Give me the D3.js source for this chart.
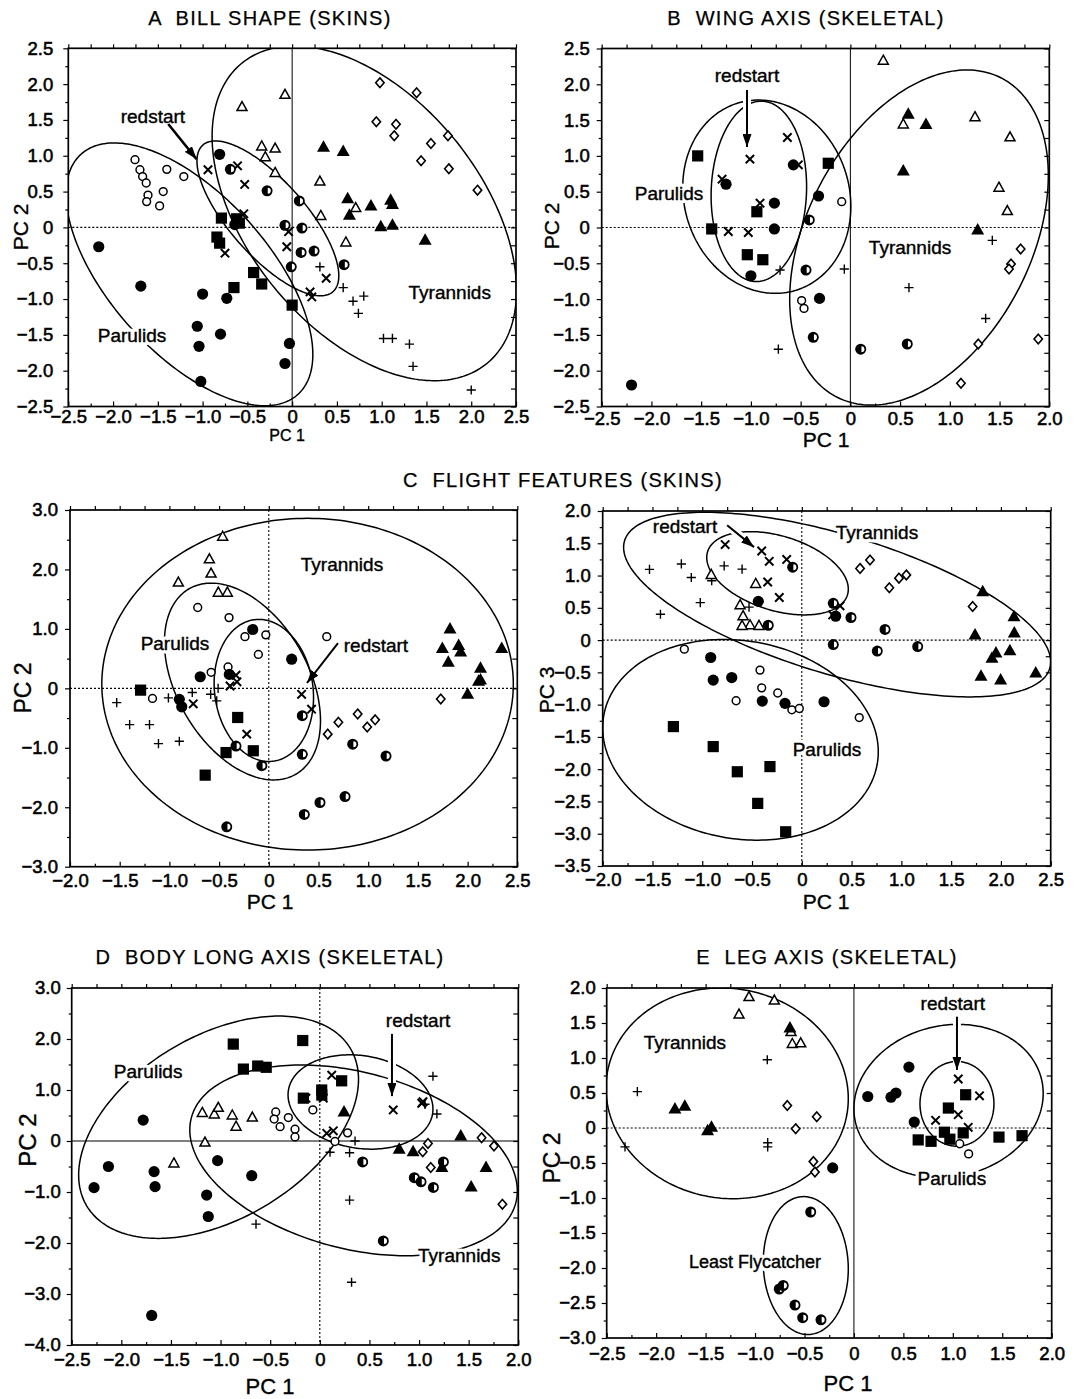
<!DOCTYPE html>
<html><head><meta charset="utf-8">
<script src="https://cdn.jsdelivr.net/npm/d3@7"></script>
<style>
body{margin:0;background:#fff}
svg{display:block;background:#fff}
text{font-family:"Liberation Sans",Arial,Helvetica,sans-serif;fill:#000}
</style></head><body>
<svg id="c" width="1074" height="1399"></svg>
<script>
// ---------------- DATA ----------------
// symbol codes: fc filled circle, sq filled square, oc open circle, x cross (redstart),
// ot open triangle, ft filled triangle, dm open diamond, pl plus, hc half-filled circle
const titles = ["A  BILL SHAPE (SKINS)", "B  WING AXIS (SKELETAL)", "C  FLIGHT FEATURES (SKINS)",
  "D  BODY LONG AXIS (SKELETAL)", "E  LEG AXIS (SKELETAL)"];

const ticksA_x = [-2.5,-2,-1.5,-1,-0.5,0,0.5,1,1.5,2,2.5];
const ticksA_y = [-2.5,-2,-1.5,-1,-0.5,0,0.5,1,1.5,2,2.5];
const ticksB_x = [-2.5,-2,-1.5,-1,-0.5,0,0.5,1,1.5,2];
const ticksB_y = [-2.5,-2,-1.5,-1,-0.5,0,0.5,1,1.5,2,2.5];
const ticksC1_x = [-2,-1.5,-1,-0.5,0,0.5,1,1.5,2,2.5];
const ticksC1_y = [-3,-2,-1,0,1,2,3];
const ticksC2_x = [-2,-1.5,-1,-0.5,0,0.5,1,1.5,2,2.5];
const ticksC2_y = [-3.5,-3,-2.5,-2,-1.5,-1,-0.5,0,0.5,1,1.5,2];
const ticksD_x = [-2.5,-2,-1.5,-1,-0.5,0,0.5,1,1.5,2];
const ticksD_y = [-4,-3,-2,-1,0,1,2,3];
const ticksE_x = [-2.5,-2,-1.5,-1,-0.5,0,0.5,1,1.5,2];
const ticksE_y = [-3,-2.5,-2,-1.5,-1,-0.5,0,0.5,1,1.5,2];

const ptsA = [
 ["fc",-2.16,-0.27],["fc",-1.69,-0.82],["fc",-1.0,-0.93],["fc",-0.73,-0.99],["fc",-1.06,-1.38],["fc",-0.80,-1.49],
 ["fc",-1.04,-1.66],["fc",-1.02,-2.15],["fc",-0.81,1.02],["fc",-0.03,-1.62],["fc",-0.08,-1.90],["fc",-0.64,0.04],
 ["sq",-0.79,0.13],["sq",-0.62,0.12],["sq",-0.59,0.06],["sq",-0.84,-0.135],["sq",-0.81,-0.22],["sq",-0.43,-0.63],
 ["sq",-0.34,-0.79],["sq",-0.65,-0.84],["sq",0.0,-1.085],
 ["oc",-1.755,0.945],["oc",-1.70,0.805],["oc",-1.67,0.71],["oc",-1.63,0.62],["oc",-1.61,0.45],["oc",-1.625,0.36],
 ["oc",-1.48,0.30],["oc",-1.44,0.50],["oc",-1.40,0.81],["oc",-1.21,0.71],
 ["x",-0.94,0.805],["x",-0.61,0.86],["x",-0.53,0.60],["x",-0.54,0.19],["x",-0.75,-0.36],["x",-0.06,-0.27],
 ["x",-0.04,-0.06],["x",0.38,-0.71],["x",0.22,-0.97],["x",0.20,-0.90],
 ["ot",-0.56,1.68],["ot",-0.08,1.85],["ot",-0.34,1.13],["ot",-0.19,1.10],["ot",-0.30,0.98],["ot",-0.19,0.76],
 ["ot",0.31,0.64],["ot",0.32,0.16],["ot",0.60,-0.21],["ot",0.71,0.27],
 ["ft",0.35,1.12],["ft",0.57,1.06],["ft",0.62,0.40],["ft",0.64,0.17],["ft",0.88,0.30],["ft",1.10,0.38],
 ["ft",1.12,0.32],["ft",0.99,0.01],["ft",1.12,0.03],["ft",1.485,-0.18],
 ["dm",0.98,2.02],["dm",1.39,1.88],["dm",0.94,1.475],["dm",1.16,1.44],["dm",1.14,1.28],["dm",1.74,1.28],
 ["dm",1.55,1.17],["dm",1.44,0.93],["dm",1.75,0.82],["dm",2.07,0.52],
 ["pl",0.31,-0.55],["pl",0.57,-0.84],["pl",0.68,-1.03],["pl",0.80,-0.96],["pl",0.74,-1.20],["pl",1.02,-1.55],
 ["pl",1.12,-1.55],["pl",1.31,-1.63],["pl",1.35,-1.94],["pl",2.0,-2.27],
 ["hc",0.08,0.37],["hc",0.11,-0.01],["hc",-0.08,0.03],["hc",0.10,-0.35],["hc",0.245,-0.33],["hc",-0.01,-0.55],
 ["hc",0.58,-0.52],["hc",-0.69,0.81],["hc",-0.28,0.51]
];
const ptsB = [
 ["fc",-1.25,0.605],["fc",-0.764,0.34],["fc",-0.764,-0.02],["fc",-1.0,-0.675],["fc",-0.573,0.875],["fc",-2.2,-2.2],
 ["fc",-0.32,0.44],["fc",-0.31,-0.99],
 ["sq",-1.535,1.0],["sq",-1.394,-0.02],["sq",-0.94,0.22],["sq",-1.036,-0.38],["sq",-0.88,-0.45],["sq",-0.222,0.897],
 ["x",-1.29,0.675],["x",-1.01,0.955],["x",-0.633,1.257],["x",-0.908,0.34],["x",-1.227,-0.056],["x",-1.026,-0.07],["x",-0.523,0.875],
 ["oc",-0.087,0.36],["oc",-0.49,-1.02],["oc",-0.466,-1.13],
 ["ot",0.331,2.33],["ot",0.532,1.44],["ot",1.253,1.54],["ot",1.605,1.26],["ot",1.494,0.556],["ot",1.578,0.23],
 ["ft",0.582,1.58],["ft",0.76,1.44],["ft",0.532,0.79],["ft",1.28,-0.035],
 ["pl",1.427,-0.18],["pl",-0.061,-0.58],["pl",0.589,-0.84],["pl",1.36,-1.27],["pl",-0.707,-0.594],["pl",-0.724,-1.70],
 ["dm",1.712,-0.30],["dm",1.615,-0.51],["dm",1.595,-0.58],["dm",1.286,-1.627],["dm",1.889,-1.557],["dm",1.112,-2.176],
 ["hc",-0.413,0.105],["hc",-0.446,-0.594],["hc",-0.373,-1.534],["hc",0.104,-1.70],["hc",0.572,-1.627]
];
const ptsC1 = [
 ["ot",-0.464,2.55],["ot",-0.598,2.17],["ot",-0.581,1.93],["ot",-0.91,1.78],["ot",-0.508,1.61],["ot",-0.417,1.61],
 ["oc",-0.715,1.36],["oc",-0.40,1.19],["oc",-0.24,0.87],["oc",-0.03,0.90],["oc",-0.105,0.57],["oc",-0.58,0.27],
 ["oc",-0.41,0.36],["oc",-1.17,-0.17],["oc",0.583,0.87],
 ["fc",-0.162,0.99],["fc",-0.69,0.195],["fc",-0.397,0.235],["fc",-0.90,-0.185],["fc",-0.876,-0.31],["fc",0.23,0.49],
 ["hc",-0.33,-0.97],["hc",-0.07,-1.30],["hc",-0.423,-2.33],["hc",0.337,-0.46],["hc",0.337,-1.11],["hc",0.844,-0.94],
 ["hc",1.179,-1.14],["hc",0.767,-1.82],["hc",0.515,-1.92],["hc",0.357,-2.12],
 ["sq",-1.29,-0.03],["sq",-0.313,-0.49],["sq",-0.43,-1.08],["sq",-0.156,-1.05],["sq",-0.64,-1.46],
 ["x",-0.76,-0.26],["x",-0.39,0.04],["x",-0.33,0.22],["x",-0.32,0.11],["x",-0.222,-0.77],["x",0.33,-0.10],["x",0.43,-0.35],
 ["pl",-1.53,-0.24],["pl",-1.40,-0.61],["pl",-1.20,-0.61],["pl",-1.11,-0.93],["pl",-0.90,-0.89],["pl",-1.01,-0.16],
 ["pl",-0.77,-0.07],["pl",-0.585,-0.10],["pl",-0.524,-0.21],["pl",-0.51,0.0],
 ["dm",0.593,-0.77],["dm",0.70,-0.57],["dm",0.894,-0.43],["dm",0.99,-0.65],["dm",1.07,-0.53],["dm",1.73,-0.18],
 ["ft",1.823,1.0],["ft",1.746,0.67],["ft",1.91,0.72],["ft",1.93,0.61],["ft",1.806,0.44],["ft",2.343,0.67],
 ["ft",2.13,0.34],["ft",2.11,0.12],["ft",2.13,0.14],["ft",2.0,-0.10]
];
const ptsC2 = [
 ["pl",-1.53,1.095],["pl",-1.21,1.18],["pl",-1.11,0.97],["pl",-1.42,0.40],["pl",-1.02,0.58],["pl",-0.78,1.15],
 ["pl",-0.60,1.10],["pl",-0.905,0.92],["pl",-0.53,0.51],
 ["ot",-0.91,1.01],["ot",-0.463,0.87],["ot",-0.62,0.54],["ot",-0.59,0.37],["ot",-0.52,0.23],["ot",-0.43,0.22],["ot",-0.60,0.22],
 ["x",-0.77,1.48],["x",-0.403,1.38],["x",-0.327,1.22],["x",-0.152,1.25],["x",-0.343,0.90],["x",-0.226,0.66],["x",0.384,0.53],["x",0.31,0.39],
 ["fc",-0.437,0.60],["fc",-0.915,-0.27],["fc",-0.89,-0.62],["fc",-0.704,-0.58],["fc",-0.397,-0.945],["fc",-0.169,-0.98],
 ["fc",0.223,-0.955],["fc",0.34,0.37],
 ["hc",-0.092,1.13],["hc",-0.337,0.23],["hc",0.316,0.57],["hc",0.494,0.35],["hc",0.836,0.165],["hc",0.316,-0.07],
 ["hc",0.758,-0.17],["hc",1.164,-0.10],
 ["oc",-1.18,-0.14],["oc",-0.42,-0.465],["oc",-0.403,-0.74],["oc",-0.242,-0.82],["oc",-0.66,-0.94],["oc",-0.10,-1.08],
 ["oc",-0.025,-1.06],["oc",0.577,-1.20],
 ["sq",-1.29,-1.34],["sq",-0.89,-1.65],["sq",-0.648,-2.04],["sq",-0.32,-1.96],["sq",-0.443,-2.53],["sq",-0.162,-2.97],
 ["dm",0.585,1.11],["dm",0.685,1.24],["dm",0.879,0.81],["dm",0.976,0.96],["dm",1.05,1.01],["dm",1.716,0.52],
 ["ft",1.817,0.75],["ft",2.131,0.36],["ft",2.134,0.11],["ft",1.74,0.08],["ft",1.95,-0.20],["ft",1.91,-0.28],
 ["ft",2.09,-0.165],["ft",1.80,-0.56],["ft",1.997,-0.62],["ft",2.35,-0.51]
];
const ptsD = [
 ["fc",-1.78,0.41],["fc",-2.13,-0.50],["fc",-2.275,-0.915],["fc",-1.67,-0.60],["fc",-1.66,-0.895],["fc",-1.14,-1.06],
 ["fc",-1.124,-1.48],["fc",-1.03,-0.385],["fc",-0.686,-0.68],["fc",-1.694,-3.42],
 ["sq",-0.872,1.90],["sq",-0.77,1.41],["sq",-0.626,1.47],["sq",-0.54,1.445],["sq",-0.172,1.97],["sq",0.22,1.18],
 ["sq",0.019,1.0],["sq",-0.166,0.84],["sq",0.02,0.90],
 ["ot",-1.184,0.55],["ot",-1.063,0.52],["ot",-1.023,0.65],["ot",-0.882,0.50],["ot",-0.844,0.28],["ot",-0.68,0.46],
 ["ot",-1.157,-0.03],["ot",-1.47,-0.44],
 ["oc",-0.444,0.57],["oc",-0.46,0.43],["oc",-0.40,0.28],["oc",-0.317,0.46],["oc",-0.25,0.23],["oc",-0.25,0.08],
 ["oc",-0.07,0.61],["oc",0.28,0.16],["oc",0.153,-0.01],
 ["x",0.12,1.29],["x",-0.14,0.84],["x",0.035,0.84],["x",0.07,0.15],["x",0.136,0.20],["x",0.74,0.61],["x",1.027,0.74],["x",1.04,0.77],
 ["pl",1.14,1.27],["pl",1.18,0.53],["pl",0.355,0.0],["pl",0.103,-0.22],["pl",0.30,-0.23],["pl",0.30,-1.16],
 ["pl",0.32,-2.77],["pl",-0.643,-1.63],["pl",1.06,0.72],
 ["ft",0.244,0.57],["ft",0.80,-0.16],["ft",0.94,-0.21],["ft",1.42,0.10],["ft",1.23,-0.52],["ft",1.675,-0.52],["ft",1.525,-0.90],
 ["dm",1.09,-0.05],["dm",1.037,-0.21],["dm",1.118,-0.52],["dm",1.63,0.065],["dm",1.755,-0.10],["dm",1.84,-1.24],
 ["hc",0.432,-0.41],["hc",0.952,-0.72],["hc",1.02,-0.80],["hc",1.144,-0.91],["hc",1.245,-0.41],["hc",0.64,-1.96]
];
const ptsE = [
 ["ot",-1.061,1.87],["ot",-0.805,1.82],["ot",-1.162,1.62],["ot",-0.636,1.37],["ot",-0.623,1.20],["ot",-0.538,1.21],
 ["ft",-0.647,1.43],["ft",-1.81,0.27],["ft",-1.71,0.31],["ft",-1.48,-0.04],["ft",-1.44,0.01],
 ["pl",-2.19,0.52],["pl",-2.315,-0.27],["pl",-0.876,0.975],["pl",-0.872,-0.21],["pl",-0.872,-0.27],
 ["dm",-0.674,0.32],["dm",-0.589,-0.01],["dm",-0.376,0.16],["dm",-0.41,-0.48],["dm",-0.394,-0.63],
 ["fc",-0.215,-0.57],["fc",0.14,0.45],["fc",0.375,0.44],["fc",0.425,0.50],["fc",0.556,0.87],["fc",0.61,0.085],
 ["sq",0.65,-0.17],["sq",0.78,-0.19],["sq",0.955,0.285],["sq",1.13,0.475],["sq",0.915,-0.06],["sq",0.97,-0.16],
 ["sq",1.105,-0.07],["sq",1.467,-0.13],["sq",1.70,-0.11],
 ["x",1.055,0.70],["x",1.27,0.46],["x",1.055,0.19],["x",0.826,0.11],["x",1.156,0.01],
 ["oc",1.07,-0.225],["oc",1.16,-0.37],
 ["hc",-0.437,-1.20],["hc",-0.755,-2.30],["hc",-0.715,-2.25],["hc",-0.596,-2.53],["hc",-0.518,-2.71],["hc",-0.333,-2.74]
];

// ellipses: [group, centre x, centre y, half-width x, half-height y, correlation]
const ellA = [["Parulids",-1.147,-0.655,1.378,1.834,-0.61],["redstart",-0.271,0.126,0.792,1.081,-0.74],["Tyrannids",0.806,0.196,1.70,2.336,-0.46]];
const ellB = [["Parulids",-0.84,0.43,0.845,1.35,-0.1],["redstart",-0.92,0.505,0.48,1.26,0.05],["Tyrannids",0.69,-0.14,1.30,2.34,0.37]];
const ellC1 = [["Tyrannids",0.39,0.07,2.07,2.79,0.0],["Parulids",-0.265,0.115,0.785,1.655,-0.4],["redstart",-0.05,-0.035,0.50,1.195,-0.1]];
const ellC2 = [["Tyrannids",0.355,0.55,2.145,1.43,-0.62],["redstart",-0.244,1.035,0.711,0.645,-0.38],["Parulids",-0.616,-1.545,1.384,1.555,-0.12]];
const ellD = [["Parulids",-1.02,0.27,1.41,2.18,0.43],["Tyrannids",0.34,-0.38,1.65,1.87,-0.32],["redstart",0.41,0.765,0.73,0.925,-0.15]];
const ellE = [["Tyrannids",-1.282,0.495,1.225,1.505,-0.05],["Least Flycatcher",-0.487,-1.965,0.43,0.985,-0.05],
              ["Parulids",0.957,0.385,0.957,1.095,0.1],["redstart",1.042,0.345,0.374,0.605,0.0]];

// group labels: [text, x, y] ; arrows: [x from, y from, x to, y to]
const labA = [["redstart",-1.555,1.556],["Parulids",-1.788,-1.51],["Tyrannids",1.76,-0.898]];
const labB = [["redstart",-1.039,2.13],["Parulids",-1.823,0.482],["Tyrannids",0.6,-0.27]];
const labC1 = [["Tyrannids",0.736,2.09],["redstart",1.078,0.73],["Parulids",-0.944,0.76]];
const labC2 = [["redstart",-1.173,1.766],["Tyrannids",0.755,1.673],["Parulids",0.253,-1.69]];
const labD = [["redstart",0.99,2.37],["Parulids",-1.73,1.37],["Tyrannids",1.405,-2.235]];
const labE = [["redstart",1.0,1.79],["Parulids",0.99,-0.71],["Tyrannids",-1.71,1.23],["Least Flycatcher",-1.0,-1.91]];
const arrA = [-1.384,1.444,-1.067,0.952];
const arrB = [-1.039,1.92,-1.039,1.124];
const arrC1 = [0.696,0.76,0.384,0.09];
const arrC2 = [-0.75,1.78,-0.48,1.44];
const arrD = [0.727,2.10,0.727,0.88];
const arrE = [1.042,1.59,1.042,0.83];

// ---------------- LAYOUT ----------------
const FONT = '"Liberation Sans",Arial,Helvetica,sans-serif';
const panels = [
 {id:"A", x0:68.3,x1:516, y0:48.3,y1:406.5, xt:ticksA_x, yt:ticksA_y, hz:"dot", vz:"solid",
  pts:ptsA, ell:ellA, lab:labA, arr:arrA, gap:false, lpad:10, bpad:3,
  xTitle:["PC 1",287,435,16], yTitle:["PC 2",20,227,21]},
 {id:"B", x0:601.7,x1:1049.3, y0:48.5,y1:406.5, xt:ticksB_x, yt:ticksB_y, hz:"dot", vz:"solid",
  pts:ptsB, ell:ellB, lab:labB, arr:arrB, gap:true, lpad:7, bpad:5,
  xTitle:["PC 1",826,439,21], yTitle:["PC 2",551,226,21]},
 {id:"C1", x0:70,x1:517.3, y0:510,y1:866.7, xt:ticksC1_x, yt:ticksC1_y, hz:"dot", vz:"dot",
  pts:ptsC1, ell:ellC1, lab:labC1, arr:arrC1, gap:false, lpad:7, bpad:7,
  xTitle:["PC 1",270,901,21], yTitle:["PC 2",23,688,23]},
 {id:"C2", x0:602.7,x1:1050.7, y0:511,y1:866, xt:ticksC2_x, yt:ticksC2_y, hz:"dot", vz:"dot",
  pts:ptsC2, ell:ellC2, lab:labC2, arr:arrC2, gap:true, lpad:7, bpad:7,
  xTitle:["PC 1",826,901,21], yTitle:["PC 3",546,690,21]},
 {id:"D", x0:71.7,x1:518.3, y0:988,y1:1345, xt:ticksD_x, yt:ticksD_y, hz:"solid", vz:"dot",
  pts:ptsD, ell:ellD, lab:labD, arr:arrD, gap:true, lpad:6, bpad:8,
  xTitle:["PC 1",270,1386,22], yTitle:["PC 2",27,1140,24]},
 {id:"E", x0:606.7,x1:1051.7, y0:988,y1:1338, xt:ticksE_x, yt:ticksE_y, hz:"dot", vz:"solid",
  pts:ptsE, ell:ellE, lab:labE, arr:arrE, gap:true, lpad:6, bpad:9,
  xTitle:["PC 1",848,1383,22], yTitle:["PC 2",552,1158,23]}
];
const titlePos = [[270,18],[806,18],[563,480],[270,957],[827,957]];

// ---------------- DRAW ----------------
const svg = d3.select("#c");
svg.append("rect").attr("width",1074).attr("height",1399).attr("fill","#fff");
const defs = svg.append("defs");
defs.append("marker").attr("id","ah").attr("viewBox","0 0 13 9").attr("refX",13).attr("refY",4.5)
  .attr("markerWidth",13).attr("markerHeight",9).attr("markerUnits","userSpaceOnUse").attr("orient","auto")
  .append("path").attr("d","M0,0L13,4.5L0,9Z").attr("fill","#000");

const fmt = d => Math.abs(d) < 1e-9 ? "0" : d3.format(".1f")(d);
function minors(t){ const m=[]; for(let i=0;i<t.length-1;i++) m.push((t[i]+t[i+1])/2); return m; }

function drawSymbol(g, type){
  switch(type){
    case "fc": g.append("circle").attr("r",5.6).attr("fill","#000"); break;
    case "sq": g.append("rect").attr("x",-5.6).attr("y",-5.6).attr("width",11.2).attr("height",11.2).attr("fill","#000"); break;
    case "oc": g.append("circle").attr("r",3.9).attr("fill","#fff").attr("stroke","#000").attr("stroke-width",1.5); break;
    case "ot": g.append("path").attr("d","M0,-5.5L5,3.5L-5,3.5Z").attr("fill","#fff").attr("stroke","#000").attr("stroke-width",1.5); break;
    case "ft": g.append("path").attr("d","M0,-7L6.5,4.5L-6.5,4.5Z").attr("fill","#000"); break;
    case "dm": g.append("path").attr("d","M0,-4.8L4.2,0L0,4.8L-4.2,0Z").attr("fill","#fff").attr("stroke","#000").attr("stroke-width",1.6); break;
    case "x": g.append("path").attr("d","M-4.2,-4.2L4.2,4.2M-4.2,4.2L4.2,-4.2").attr("stroke","#000").attr("stroke-width",2).attr("fill","none"); break;
    case "pl": g.append("path").attr("d","M-4.6,0L4.6,0M0,-4.6L0,4.6").attr("stroke","#000").attr("stroke-width",1.4).attr("fill","none"); break;
    case "hc":
      g.append("circle").attr("r",5.5).attr("fill","#000");
      g.append("path").attr("d","M0.7,-3A3,3 0 0 1 0.7,3Z").attr("fill","#fff");
      break;
  }
}

function ellipsePath(e, x, y){
  const [ , cx, cy, sx, sy, r] = e;
  const phi = Math.acos(r);
  const n = 240, pts = [];
  for(let i=0;i<n;i++){
    const t = 2*Math.PI*i/n;
    pts.push([x(cx + sx*Math.cos(t)), y(cy + sy*Math.cos(t - phi))]);
  }
  return d3.line().curve(d3.curveLinearClosed)(pts);
}

titles.forEach((t,i)=>{
  svg.append("text").attr("x",titlePos[i][0]).attr("y",titlePos[i][1]).attr("dy","0.36em")
    .attr("text-anchor","middle").attr("font-size",20).attr("letter-spacing","1.3px")
    .attr("stroke","#000").attr("stroke-width",0.25)
    .style("white-space","pre").attr("xml:space","preserve").text(t);
});

panels.forEach(P=>{
  const x = d3.scaleLinear().domain([P.xt[0], P.xt[P.xt.length-1]]).range([P.x0,P.x1]);
  const y = d3.scaleLinear().domain([P.yt[0], P.yt[P.yt.length-1]]).range([P.y1,P.y0]);
  const g = svg.append("g");
  const cid = "clip"+P.id;
  defs.append("clipPath").attr("id",cid).append("rect")
    .attr("x",P.x0).attr("y",P.y0).attr("width",P.x1-P.x0).attr("height",P.y1-P.y0);
  const inner = g.append("g").attr("clip-path",`url(#${cid})`);

  // zero lines
  inner.append("line").attr("x1",P.x0).attr("x2",P.x1).attr("y1",y(0)).attr("y2",y(0))
    .attr("stroke","#000").attr("stroke-width",P.hz==="dot"?1.1:1.2).attr("stroke-dasharray",P.hz==="dot"?"2,2":null);
  inner.append("line").attr("y1",P.y0).attr("y2",P.y1).attr("x1",x(0)).attr("x2",x(0))
    .attr("stroke","#000").attr("stroke-width",P.vz==="dot"?1.1:1).attr("stroke-dasharray",P.vz==="dot"?"2,2":null);

  // ellipses
  inner.selectAll("path.ell").data(P.ell).join("path").attr("class","ell")
    .attr("d",e=>ellipsePath(e,x,y)).attr("fill","none").attr("stroke","#000").attr("stroke-width",1.5);

  // arrow underlay (gap in ellipse lines)
  const a = P.arr;
  if(P.gap){
    inner.append("line").attr("x1",x(a[0])).attr("y1",y(a[1])).attr("x2",x(a[2])).attr("y2",y(a[3]))
      .attr("stroke","#fff").attr("stroke-width",8);
  }

  // points
  inner.selectAll("g.pt").data(P.pts).join("g").attr("class","pt")
    .attr("transform",d=>`translate(${x(d[1])},${y(d[2])})`)
    .each(function(d){ drawSymbol(d3.select(this), d[0]); });

  // labels with white halo
  P.lab.forEach(l=>{
    const fs = l[0]==="Least Flycatcher" ? 18 : 19;
    g.append("text").attr("x",x(l[1])).attr("y",y(l[2])).attr("dy","0.36em").attr("text-anchor","middle")
      .attr("font-size",fs).attr("fill","#fff").attr("stroke","#fff").attr("stroke-width",7).attr("stroke-linejoin","round").text(l[0]);
    g.append("text").attr("x",x(l[1])).attr("y",y(l[2])).attr("dy","0.36em").attr("text-anchor","middle")
      .attr("font-size",fs).attr("stroke","#000").attr("stroke-width",0.4).text(l[0]);
  });

  // arrow
  g.append("line").attr("x1",x(a[0])).attr("y1",y(a[1])).attr("x2",x(a[2])).attr("y2",y(a[3]))
    .attr("stroke","#000").attr("stroke-width",P.id==="A"?2.6:2).attr("marker-end","url(#ah)");

  // axes
  const styleAxis = sel => {
    sel.attr("font-family",FONT).attr("font-size",18.5);
    sel.select(".domain").remove();
    sel.selectAll("line").attr("stroke","#000").attr("stroke-width",1.2);
    sel.selectAll("text").attr("fill","#000").attr("stroke","#000").attr("stroke-width",0.55);
  };
  g.append("g").attr("transform",`translate(0,${P.y1})`)
    .call(d3.axisBottom(x).tickValues(P.xt).tickSizeInner(-5).tickSizeOuter(0).tickPadding(P.bpad).tickFormat(fmt)).call(styleAxis);
  g.append("g").attr("transform",`translate(0,${P.y1})`)
    .call(d3.axisBottom(x).tickValues(minors(P.xt)).tickSizeInner(-3).tickSizeOuter(0).tickFormat("")).call(styleAxis);
  g.append("g").attr("transform",`translate(${P.x0},0)`)
    .call(d3.axisLeft(y).tickValues(P.yt).tickSizeInner(5).tickSizeOuter(0).tickPadding(P.lpad).tickFormat(fmt)).call(styleAxis);
  g.append("g").attr("transform",`translate(${P.x0},0)`)
    .call(d3.axisLeft(y).tickValues(minors(P.yt)).tickSizeInner(3).tickSizeOuter(0).tickFormat("")).call(styleAxis);
  g.append("g").attr("transform",`translate(0,${P.y0})`)
    .call(d3.axisTop(x).tickValues(P.xt.concat(minors(P.xt))).tickSizeInner(4).tickSizeOuter(0).tickFormat("")).call(styleAxis);
  g.append("g").attr("transform",`translate(${P.x1},0)`)
    .call(d3.axisRight(y).tickValues(P.yt.concat(minors(P.yt))).tickSizeInner(-5).tickSizeOuter(0).tickFormat("")).call(styleAxis);

  // frame
  g.append("rect").attr("x",P.x0).attr("y",P.y0).attr("width",P.x1-P.x0).attr("height",P.y1-P.y0)
    .attr("fill","none").attr("stroke","#000").attr("stroke-width",1.7);

  // axis titles
  g.append("text").attr("x",P.xTitle[1]).attr("y",P.xTitle[2]).attr("dy","0.36em").attr("text-anchor","middle")
    .attr("font-size",P.xTitle[3]).attr("stroke","#000").attr("stroke-width",0.35).text(P.xTitle[0]);
  g.append("text").attr("transform",`translate(${P.yTitle[1]},${P.yTitle[2]}) rotate(-90)`).attr("dy","0.36em")
    .attr("text-anchor","middle").attr("font-size",P.yTitle[3]).attr("stroke","#000").attr("stroke-width",0.35).text(P.yTitle[0]);
});
</script></body></html>
